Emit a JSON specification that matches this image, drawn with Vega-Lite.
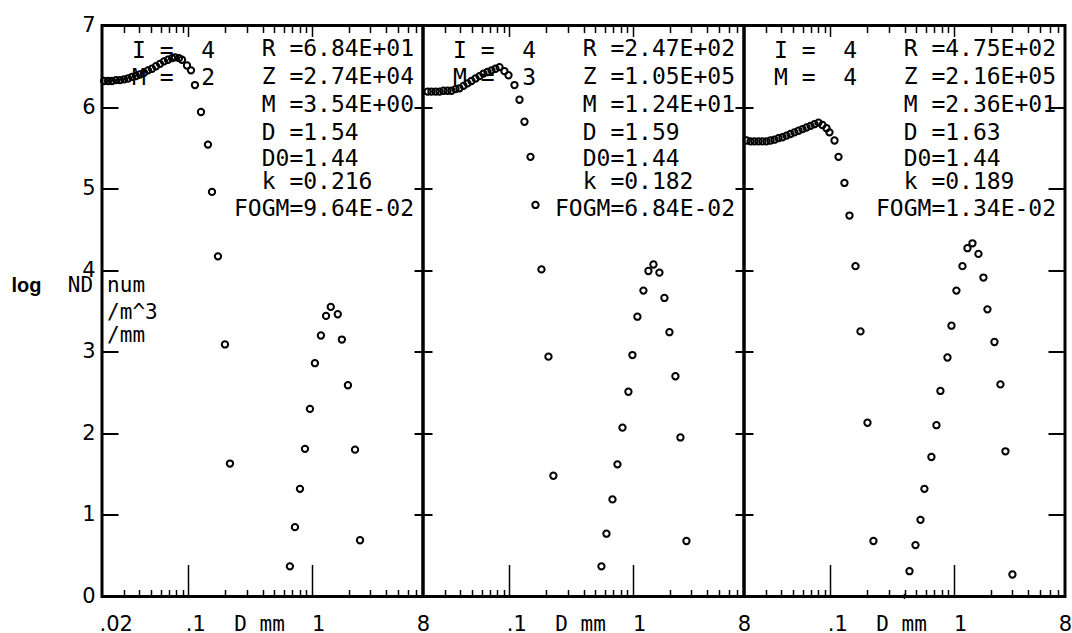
{
  "$schema": "https://vega.github.io/schema/vega-lite/v6.json",
  "autosize": {"type": "pad"},
  "padding": {"left": 9, "top": 12.5, "right": 5, "bottom": 10},
  "background": "white",
  "bounds": "flush",
  "spacing": 0,
  "config": {
    "view": {"stroke": "black", "strokeWidth": 3},
    "axis": {"grid": false, "domain": false, "tickColor": "black", "labelColor": "black", "titleColor": "black"}
  },
  "datasets": {
    "pts": [
      {"p":1,"d":0.0208,"v":6.32},{"p":1,"d":0.0224,"v":6.32},{"p":1,"d":0.0241,"v":6.32},{"p":1,"d":0.0260,"v":6.33},{"p":1,"d":0.0280,"v":6.33},
      {"p":1,"d":0.0302,"v":6.34},{"p":1,"d":0.0325,"v":6.35},{"p":1,"d":0.0350,"v":6.37},{"p":1,"d":0.0377,"v":6.38},{"p":1,"d":0.0406,"v":6.40},
      {"p":1,"d":0.0438,"v":6.42},{"p":1,"d":0.0472,"v":6.45},{"p":1,"d":0.0508,"v":6.47},{"p":1,"d":0.0548,"v":6.50},{"p":1,"d":0.0590,"v":6.53},
      {"p":1,"d":0.0636,"v":6.56},{"p":1,"d":0.0685,"v":6.58},{"p":1,"d":0.0739,"v":6.60},{"p":1,"d":0.0781,"v":6.61},{"p":1,"d":0.0841,"v":6.60},
      {"p":1,"d":0.0890,"v":6.58},{"p":1,"d":0.0977,"v":6.51},{"p":1,"d":0.1053,"v":6.45},{"p":1,"d":0.1134,"v":6.27},{"p":1,"d":0.1269,"v":5.94},
      {"p":1,"d":0.1446,"v":5.54},{"p":1,"d":0.1558,"v":4.96},{"p":1,"d":0.1742,"v":4.17},{"p":1,"d":0.1985,"v":3.09},{"p":1,"d":0.218,"v":1.63},
      {"p":1,"d":0.667,"v":0.37},{"p":1,"d":0.733,"v":0.85},{"p":1,"d":0.805,"v":1.32},{"p":1,"d":0.884,"v":1.81},{"p":1,"d":0.970,"v":2.30},
      {"p":1,"d":1.064,"v":2.86},{"p":1,"d":1.19,"v":3.20},{"p":1,"d":1.31,"v":3.44},{"p":1,"d":1.43,"v":3.55},{"p":1,"d":1.63,"v":3.46},
      {"p":1,"d":1.76,"v":3.15},{"p":1,"d":1.97,"v":2.59},{"p":1,"d":2.25,"v":1.80},{"p":1,"d":2.47,"v":0.69},

      {"p":2,"d":0.0218,"v":6.19},{"p":2,"d":0.0234,"v":6.19},{"p":2,"d":0.0253,"v":6.19},{"p":2,"d":0.0272,"v":6.19},{"p":2,"d":0.0293,"v":6.20},
      {"p":2,"d":0.0316,"v":6.20},{"p":2,"d":0.0340,"v":6.20},{"p":2,"d":0.0367,"v":6.22},{"p":2,"d":0.0395,"v":6.23},{"p":2,"d":0.0426,"v":6.26},
      {"p":2,"d":0.0459,"v":6.29},{"p":2,"d":0.0494,"v":6.32},{"p":2,"d":0.0533,"v":6.35},{"p":2,"d":0.0574,"v":6.38},{"p":2,"d":0.0618,"v":6.41},
      {"p":2,"d":0.0666,"v":6.43},{"p":2,"d":0.0718,"v":6.45},{"p":2,"d":0.0774,"v":6.47},{"p":2,"d":0.0834,"v":6.49},{"p":2,"d":0.0915,"v":6.44},
      {"p":2,"d":0.0986,"v":6.39},{"p":2,"d":0.1103,"v":6.27},{"p":2,"d":0.1211,"v":6.09},{"p":2,"d":0.1329,"v":5.82},{"p":2,"d":0.1487,"v":5.39},
      {"p":2,"d":0.1632,"v":4.80},{"p":2,"d":0.1825,"v":4.01},{"p":2,"d":0.208,"v":2.94},{"p":2,"d":0.228,"v":1.48},
      {"p":2,"d":0.559,"v":0.37},{"p":2,"d":0.614,"v":0.77},{"p":2,"d":0.687,"v":1.19},{"p":2,"d":0.754,"v":1.62},{"p":2,"d":0.828,"v":2.07},
      {"p":2,"d":0.925,"v":2.51},{"p":2,"d":0.997,"v":2.96},{"p":2,"d":1.094,"v":3.43},{"p":2,"d":1.224,"v":3.75},{"p":2,"d":1.344,"v":3.99},
      {"p":2,"d":1.476,"v":4.07},{"p":2,"d":1.650,"v":3.97},{"p":2,"d":1.811,"v":3.66},{"p":2,"d":1.989,"v":3.24},{"p":2,"d":2.224,"v":2.70},
      {"p":2,"d":2.442,"v":1.95},{"p":2,"d":2.732,"v":0.68},

      {"p":3,"d":0.0210,"v":5.59},{"p":3,"d":0.0226,"v":5.58},{"p":3,"d":0.0243,"v":5.58},{"p":3,"d":0.0262,"v":5.58},{"p":3,"d":0.0282,"v":5.58},
      {"p":3,"d":0.0304,"v":5.58},{"p":3,"d":0.0328,"v":5.59},{"p":3,"d":0.0353,"v":5.60},{"p":3,"d":0.0381,"v":5.62},{"p":3,"d":0.0410,"v":5.63},
      {"p":3,"d":0.0442,"v":5.65},{"p":3,"d":0.0476,"v":5.67},{"p":3,"d":0.0513,"v":5.69},{"p":3,"d":0.0553,"v":5.71},{"p":3,"d":0.0596,"v":5.73},
      {"p":3,"d":0.0642,"v":5.75},{"p":3,"d":0.0692,"v":5.77},{"p":3,"d":0.0745,"v":5.79},{"p":3,"d":0.0803,"v":5.81},{"p":3,"d":0.0865,"v":5.78},
      {"p":3,"d":0.0933,"v":5.74},{"p":3,"d":0.0986,"v":5.69},{"p":3,"d":0.1083,"v":5.59},{"p":3,"d":0.1167,"v":5.39},{"p":3,"d":0.1304,"v":5.07},
      {"p":3,"d":0.1432,"v":4.67},{"p":3,"d":0.1602,"v":4.05},{"p":3,"d":0.1759,"v":3.25},{"p":3,"d":0.2004,"v":2.13},{"p":3,"d":0.224,"v":0.68},
      {"p":3,"d":0.439,"v":0.31},{"p":3,"d":0.491,"v":0.63},{"p":3,"d":0.539,"v":0.94},{"p":3,"d":0.580,"v":1.32},{"p":3,"d":0.661,"v":1.71},
      {"p":3,"d":0.726,"v":2.10},{"p":3,"d":0.782,"v":2.52},{"p":3,"d":0.892,"v":2.93},{"p":3,"d":0.961,"v":3.32},{"p":3,"d":1.054,"v":3.75},
      {"p":3,"d":1.180,"v":4.05},{"p":3,"d":1.295,"v":4.27},{"p":3,"d":1.422,"v":4.33},{"p":3,"d":1.590,"v":4.20},{"p":3,"d":1.745,"v":3.91},
      {"p":3,"d":1.881,"v":3.52},{"p":3,"d":2.144,"v":3.12},{"p":3,"d":2.397,"v":2.60},{"p":3,"d":2.631,"v":1.78},{"p":3,"d":2.999,"v":0.27}
    ],
    "mk": [{"p":3,"d":0.40,"v":0}],
    "txt": [
      {"p":1,"g":"r","d":0.394,"v":6.71,"t":"R\u00a0=6.84E+01"},
      {"p":1,"g":"r","d":0.394,"v":6.37,"t":"Z\u00a0=2.74E+04"},
      {"p":1,"g":"r","d":0.394,"v":6.02,"t":"M\u00a0=3.54E+00"},
      {"p":1,"g":"r","d":0.394,"v":5.68,"t":"D\u00a0=1.54"},
      {"p":1,"g":"r","d":0.394,"v":5.36,"t":"D0=1.44"},
      {"p":1,"g":"r","d":0.394,"v":5.08,"t":"k\u00a0=0.216"},
      {"p":1,"g":"r","d":0.235,"v":4.75,"t":"FOGM=9.64E-02"},
      {"p":1,"g":"l","d":0.035,"v":6.69,"t":"I\u00a0=\u00a0\u00a04"},
      {"p":1,"g":"l","d":0.035,"v":6.36,"t":"M\u00a0=\u00a0\u00a02"},
      {"p":1,"g":"u","d":0.022,"v":3.81,"t":"num"},
      {"p":1,"g":"u","d":0.022,"v":3.48,"t":"/m^3"},
      {"p":1,"g":"u","d":0.022,"v":3.19,"t":"/mm"},
      {"p":2,"g":"r","d":0.394,"v":6.71,"t":"R\u00a0=2.47E+02"},
      {"p":2,"g":"r","d":0.394,"v":6.37,"t":"Z\u00a0=1.05E+05"},
      {"p":2,"g":"r","d":0.394,"v":6.02,"t":"M\u00a0=1.24E+01"},
      {"p":2,"g":"r","d":0.394,"v":5.68,"t":"D\u00a0=1.59"},
      {"p":2,"g":"r","d":0.394,"v":5.36,"t":"D0=1.44"},
      {"p":2,"g":"r","d":0.394,"v":5.08,"t":"k\u00a0=0.182"},
      {"p":2,"g":"r","d":0.235,"v":4.75,"t":"FOGM=6.84E-02"},
      {"p":2,"g":"l","d":0.035,"v":6.69,"t":"I\u00a0=\u00a0\u00a04"},
      {"p":2,"g":"l","d":0.035,"v":6.36,"t":"M\u00a0=\u00a0\u00a03"},
      {"p":3,"g":"r","d":0.394,"v":6.71,"t":"R\u00a0=4.75E+02"},
      {"p":3,"g":"r","d":0.394,"v":6.37,"t":"Z\u00a0=2.16E+05"},
      {"p":3,"g":"r","d":0.394,"v":6.02,"t":"M\u00a0=2.36E+01"},
      {"p":3,"g":"r","d":0.394,"v":5.68,"t":"D\u00a0=1.63"},
      {"p":3,"g":"r","d":0.394,"v":5.36,"t":"D0=1.44"},
      {"p":3,"g":"r","d":0.394,"v":5.08,"t":"k\u00a0=0.189"},
      {"p":3,"g":"r","d":0.235,"v":4.75,"t":"FOGM=1.34E-02"},
      {"p":3,"g":"l","d":0.035,"v":6.69,"t":"I\u00a0=\u00a0\u00a04"},
      {"p":3,"g":"l","d":0.035,"v":6.36,"t":"M\u00a0=\u00a0\u00a04"}
    ]
  },
  "hconcat": [
    {
      "width": 321, "height": 571,
      "resolve": {"axis": {"x": "independent", "y": "independent"}},
      "layer": [
        {
          "data": {"name": "pts"}, "transform": [{"filter": "datum.p == 1"}],
          "mark": {"type": "point", "shape": "circle", "filled": false, "color": "black", "strokeWidth": 2, "size": 40, "opacity": 1},
          "encoding": {
            "x": {"field": "d", "type": "quantitative", "scale": {"type": "log", "domain": [0.02, 8], "nice": false},
              "axis": {"orient": "bottom", "values": [0.03,0.04,0.05,0.06,0.07,0.08,0.09,0.1,0.2,0.3,0.4,0.5,0.6,0.7,0.8,0.9,1,2,3,4,5,6,7], "labels": true, "labelExpr": "''", "labelFontSize": 1, "labelPadding": 0, "title": null, "domain": false, "tickWidth": 1.5,
                "tickSize": {"condition": {"test": "datum.value == 0.1 || datum.value == 1", "value": -32}, "value": -7}}},
            "y": {"field": "v", "type": "quantitative", "scale": {"domain": [0, 7], "nice": false, "zero": false},
              "axis": {"orient": "left", "values": [1,2,3,4,5,6], "labels": true, "labelExpr": "''", "labelFontSize": 1, "labelPadding": 0, "title": null, "domain": false, "tickSize": -16, "tickWidth": 2}}
          }
        },
        {
          "data": {"name": "txt"}, "transform": [{"filter": "datum.p == 1 && datum.g == 'r'"}],
          "mark": {"type": "text", "align": "left", "baseline": "middle", "font": "DejaVu Sans Mono", "fontSize": 23, "fill": "black"},
          "encoding": {
            "x": {"field": "d", "type": "quantitative", "scale": {"type": "log", "domain": [0.02, 8], "nice": false},
              "axis": {"orient": "top", "values": [0.03,0.04,0.05,0.06,0.07,0.08,0.09,0.1,0.2,0.3,0.4,0.5,0.6,0.7,0.8,0.9,1,2,3,4,5,6,7], "labels": true, "labelExpr": "''", "labelFontSize": 1, "labelPadding": 0, "title": null, "domain": false, "tickWidth": 1.5,
                "tickSize": {"condition": {"test": "datum.value == 0.1 || datum.value == 1", "value": -11}, "value": -7}}},
            "y": {"field": "v", "type": "quantitative", "scale": {"domain": [0, 7], "nice": false, "zero": false},
              "axis": {"orient": "left", "values": [0,1,2,3,4,5,6,7], "ticks": false, "tickSize": 0, "domain": false, "labelFont": "DejaVu Sans", "labelFontSize": 21, "labelPadding": 7, "labelBaseline": "middle", "labelAlign": "right", "labelFlush": false, "labelOverlap": false, "labelBound": false,
                "title": "ND", "titleFont": "DejaVu Sans Mono", "titleFontSize": 21, "titleFontWeight": "normal", "titleAngle": 0, "titleX": -22, "titleY": 260, "titleAlign": "center", "titleBaseline": "middle"}},
            "text": {"field": "t", "type": "nominal"}
          }
        },
        {
          "data": {"name": "txt"}, "transform": [{"filter": "datum.p == 1 && datum.g == 'l'"}],
          "mark": {"type": "text", "align": "left", "baseline": "middle", "font": "DejaVu Sans Mono", "fontSize": 23, "fill": "black"},
          "encoding": {
            "x": {"field": "d", "type": "quantitative", "scale": {"type": "log", "domain": [0.02, 8], "nice": false},
              "axis": {"orient": "bottom", "values": [0.02, 0.1, 1, 8], "ticks": false, "tickSize": 0, "domain": false,
                "labelExpr": "datum.value < 0.05 ? '.02' : datum.value < 0.5 ? '.1' : datum.value < 5 ? '1' : '8'",
                "labelFont": "DejaVu Sans", "labelFontSize": 21, "labelBaseline": "alphabetic", "labelPadding": 34,
                "labelAlign": {"condition": {"test": "datum.value > 5", "value": "center"}, "value": "left"},
                "labelOffset": {"condition": {"test": "datum.value < 0.5", "value": -3}, "value": 0},
                "labelFlush": false, "labelOverlap": false, "labelBound": false,
                "title": "D mm", "titleFont": "DejaVu Sans Mono", "titleFontSize": 21, "titleFontWeight": "normal", "titleX": 157, "titleY": 34, "titleAlign": "center", "titleBaseline": "alphabetic"}},
            "y": {"field": "v", "type": "quantitative", "scale": {"domain": [0, 7], "nice": false, "zero": false},
              "axis": {"orient": "left", "labels": false, "ticks": false, "domain": false,
                "title": "log", "titleFont": "Liberation Sans", "titleFontSize": 20, "titleFontWeight": "bold", "titleAngle": 0, "titleX": -76, "titleY": 260, "titleAlign": "center", "titleBaseline": "middle"}},
            "text": {"field": "t", "type": "nominal"}
          }
        },
        {
          "data": {"name": "txt"}, "transform": [{"filter": "datum.p == 1 && datum.g == 'u'"}],
          "mark": {"type": "text", "align": "left", "baseline": "middle", "font": "DejaVu Sans Mono", "fontSize": 21, "fill": "black"},
          "encoding": {
            "x": {"field": "d", "type": "quantitative", "scale": {"type": "log", "domain": [0.02, 8], "nice": false}, "axis": null},
            "y": {"field": "v", "type": "quantitative", "scale": {"domain": [0, 7], "nice": false, "zero": false}, "axis": null},
            "text": {"field": "t", "type": "nominal"}
          }
        }
      ]
    },
    {
      "width": 321, "height": 571,
      "resolve": {"axis": {"x": "independent", "y": "independent"}},
      "layer": [
        {
          "data": {"name": "pts"}, "transform": [{"filter": "datum.p == 2"}],
          "mark": {"type": "point", "shape": "circle", "filled": false, "color": "black", "strokeWidth": 2, "size": 40, "opacity": 1},
          "encoding": {
            "x": {"field": "d", "type": "quantitative", "scale": {"type": "log", "domain": [0.02, 8], "nice": false},
              "axis": {"orient": "bottom", "values": [0.03,0.04,0.05,0.06,0.07,0.08,0.09,0.1,0.2,0.3,0.4,0.5,0.6,0.7,0.8,0.9,1,2,3,4,5,6,7], "labels": true, "labelExpr": "''", "labelFontSize": 1, "labelPadding": 0, "title": null, "domain": false, "tickWidth": 1.5,
                "tickSize": {"condition": {"test": "datum.value == 0.1 || datum.value == 1", "value": -32}, "value": -7}}},
            "y": {"field": "v", "type": "quantitative", "scale": {"domain": [0, 7], "nice": false, "zero": false},
              "axis": {"orient": "left", "values": [1,2,3,4,5,6], "labels": true, "labelExpr": "''", "labelFontSize": 1, "labelPadding": 0, "title": null, "domain": false, "tickSize": 18, "offset": -9, "tickWidth": 2}}
          }
        },
        {
          "data": {"name": "txt"}, "transform": [{"filter": "datum.p == 2 && datum.g == 'r'"}],
          "mark": {"type": "text", "align": "left", "baseline": "middle", "font": "DejaVu Sans Mono", "fontSize": 23, "fill": "black"},
          "encoding": {
            "x": {"field": "d", "type": "quantitative", "scale": {"type": "log", "domain": [0.02, 8], "nice": false},
              "axis": {"orient": "top", "values": [0.03,0.04,0.05,0.06,0.07,0.08,0.09,0.1,0.2,0.3,0.4,0.5,0.6,0.7,0.8,0.9,1,2,3,4,5,6,7], "labels": true, "labelExpr": "''", "labelFontSize": 1, "labelPadding": 0, "title": null, "domain": false, "tickWidth": 1.5,
                "tickSize": {"condition": {"test": "datum.value == 0.1 || datum.value == 1", "value": -11}, "value": -7}}},
            "y": {"field": "v", "type": "quantitative", "scale": {"domain": [0, 7], "nice": false, "zero": false}, "axis": null},
            "text": {"field": "t", "type": "nominal"}
          }
        },
        {
          "data": {"name": "txt"}, "transform": [{"filter": "datum.p == 2 && datum.g == 'l'"}],
          "mark": {"type": "text", "align": "left", "baseline": "middle", "font": "DejaVu Sans Mono", "fontSize": 23, "fill": "black"},
          "encoding": {
            "x": {"field": "d", "type": "quantitative", "scale": {"type": "log", "domain": [0.02, 8], "nice": false},
              "axis": {"orient": "bottom", "values": [0.1, 1, 8], "ticks": false, "tickSize": 0, "domain": false,
                "labelExpr": "datum.value < 0.05 ? '.02' : datum.value < 0.5 ? '.1' : datum.value < 5 ? '1' : '8'",
                "labelFont": "DejaVu Sans", "labelFontSize": 21, "labelBaseline": "alphabetic", "labelPadding": 34,
                "labelAlign": {"condition": {"test": "datum.value > 5", "value": "center"}, "value": "left"},
                "labelOffset": {"condition": {"test": "datum.value < 0.5", "value": -3}, "value": 0},
                "labelFlush": false, "labelOverlap": false, "labelBound": false,
                "title": "D mm", "titleFont": "DejaVu Sans Mono", "titleFontSize": 21, "titleFontWeight": "normal", "titleX": 157, "titleY": 34, "titleAlign": "center", "titleBaseline": "alphabetic"}},
            "y": {"field": "v", "type": "quantitative", "scale": {"domain": [0, 7], "nice": false, "zero": false}, "axis": null},
            "text": {"field": "t", "type": "nominal"}
          }
        }
      ]
    },
    {
      "width": 321, "height": 571,
      "resolve": {"axis": {"x": "independent", "y": "independent"}},
      "layer": [
        {
          "data": {"name": "pts"}, "transform": [{"filter": "datum.p == 3"}],
          "mark": {"type": "point", "shape": "circle", "filled": false, "color": "black", "strokeWidth": 2, "size": 40, "opacity": 1},
          "encoding": {
            "x": {"field": "d", "type": "quantitative", "scale": {"type": "log", "domain": [0.02, 8], "nice": false},
              "axis": {"orient": "bottom", "values": [0.03,0.04,0.05,0.06,0.07,0.08,0.09,0.1,0.2,0.3,0.4,0.5,0.6,0.7,0.8,0.9,1,2,3,4,5,6,7], "labels": true, "labelExpr": "''", "labelFontSize": 1, "labelPadding": 0, "title": null, "domain": false, "tickWidth": 1.5,
                "tickSize": {"condition": {"test": "datum.value == 0.1 || datum.value == 1", "value": -32}, "value": -7}}},
            "y": {"field": "v", "type": "quantitative", "scale": {"domain": [0, 7], "nice": false, "zero": false},
              "axis": {"orient": "left", "values": [1,2,3,4,5,6], "labels": true, "labelExpr": "''", "labelFontSize": 1, "labelPadding": 0, "title": null, "domain": false, "tickSize": 18, "offset": -9, "tickWidth": 2}}
          }
        },
        {
          "data": {"name": "txt"}, "transform": [{"filter": "datum.p == 3 && datum.g == 'r'"}],
          "mark": {"type": "text", "align": "left", "baseline": "middle", "font": "DejaVu Sans Mono", "fontSize": 23, "fill": "black"},
          "encoding": {
            "x": {"field": "d", "type": "quantitative", "scale": {"type": "log", "domain": [0.02, 8], "nice": false},
              "axis": {"orient": "top", "values": [0.03,0.04,0.05,0.06,0.07,0.08,0.09,0.1,0.2,0.3,0.4,0.5,0.6,0.7,0.8,0.9,1,2,3,4,5,6,7], "labels": true, "labelExpr": "''", "labelFontSize": 1, "labelPadding": 0, "title": null, "domain": false, "tickWidth": 1.5,
                "tickSize": {"condition": {"test": "datum.value == 0.1 || datum.value == 1", "value": -11}, "value": -7}}},
            "y": {"field": "v", "type": "quantitative", "scale": {"domain": [0, 7], "nice": false, "zero": false},
              "axis": {"orient": "right", "values": [1,2,3,4,5,6], "labels": true, "labelExpr": "''", "labelFontSize": 1, "labelPadding": 0, "title": null, "domain": false, "tickSize": -17, "tickWidth": 2}},
            "text": {"field": "t", "type": "nominal"}
          }
        },
        {
          "data": {"name": "txt"}, "transform": [{"filter": "datum.p == 3 && datum.g == 'l'"}],
          "mark": {"type": "text", "align": "left", "baseline": "middle", "font": "DejaVu Sans Mono", "fontSize": 23, "fill": "black"},
          "encoding": {
            "x": {"field": "d", "type": "quantitative", "scale": {"type": "log", "domain": [0.02, 8], "nice": false},
              "axis": {"orient": "bottom", "values": [0.1, 1, 8], "ticks": false, "tickSize": 0, "domain": false,
                "labelExpr": "datum.value < 0.05 ? '.02' : datum.value < 0.5 ? '.1' : datum.value < 5 ? '1' : '8'",
                "labelFont": "DejaVu Sans", "labelFontSize": 21, "labelBaseline": "alphabetic", "labelPadding": 34,
                "labelAlign": {"condition": {"test": "datum.value > 5", "value": "center"}, "value": "left"},
                "labelOffset": {"condition": {"test": "datum.value < 0.5", "value": -3}, "value": 0},
                "labelFlush": false, "labelOverlap": false, "labelBound": false,
                "title": "D mm", "titleFont": "DejaVu Sans Mono", "titleFontSize": 21, "titleFontWeight": "normal", "titleX": 157, "titleY": 34, "titleAlign": "center", "titleBaseline": "alphabetic"}},
            "y": {"field": "v", "type": "quantitative", "scale": {"domain": [0, 7], "nice": false, "zero": false}, "axis": null},
            "text": {"field": "t", "type": "nominal"}
          }
        },
        {
          "data": {"name": "mk"}, "transform": [{"filter": "datum.p == 3"}],
          "mark": {"type": "point", "shape": "diamond", "filled": true, "color": "black", "size": 30, "opacity": 1},
          "encoding": {
            "x": {"field": "d", "type": "quantitative", "scale": {"type": "log", "domain": [0.02, 8], "nice": false}, "axis": null},
            "y": {"field": "v", "type": "quantitative", "scale": {"domain": [0, 7], "nice": false, "zero": false}, "axis": null}
          }
        }
      ]
    }
  ]
}
